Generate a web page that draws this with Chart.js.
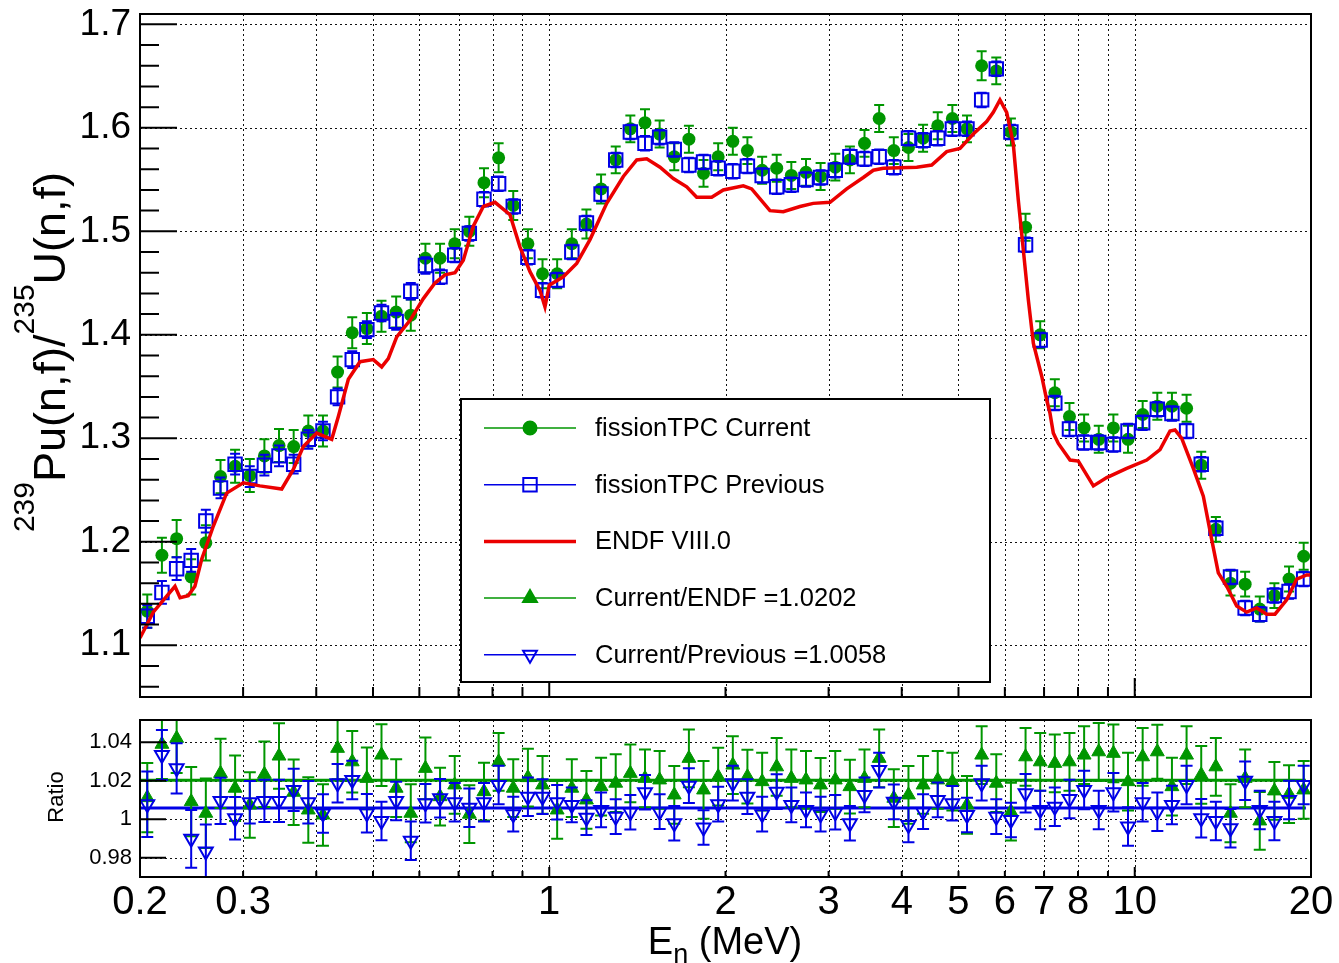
<!DOCTYPE html>
<html>
<head>
<meta charset="utf-8">
<script src="https://cdn.jsdelivr.net/npm/chart.js@4.4.1/dist/chart.umd.min.js"></script>
<style>
body { margin: 0; background: #fff; }
#wrap { position: relative; width: 1339px; height: 963px; }
#topBox { position: absolute; left: 0; top: 0; width: 1339px; height: 700px; }
#botBox { position: absolute; left: 0; top: 700px; width: 1339px; height: 263px; }
</style>
</head>
<body>
<div id="wrap">
  <div id="topBox"><canvas id="topChart"></canvas></div>
  <div id="botBox"><canvas id="ratioChart"></canvas></div>
</div>
<script>
// bin centres (MeV), 80 log-spaced bins between 0.2 and 20
const energy = [0.2058,0.2180,0.2310,0.2446,0.2591,0.2745,0.2907,0.3080,0.3262,0.3455,
  0.3660,0.3877,0.4107,0.4350,0.4608,0.4881,0.5170,0.5477,0.5801,0.6145,
  0.6509,0.6895,0.7303,0.7736,0.8195,0.8680,0.9195,0.9739,1.0316,1.0928,
  1.1575,1.2261,1.2988,1.3757,1.4572,1.5436,1.6350,1.7319,1.8345,1.9432,
  2.0584,2.180,2.310,2.446,2.591,2.745,2.907,3.080,3.262,3.455,
  3.660,3.877,4.107,4.350,4.608,4.881,5.170,5.477,5.801,6.145,
  6.509,6.895,7.303,7.736,8.195,8.680,9.195,9.739,10.316,10.928,
  11.575,12.261,12.988,13.757,14.572,15.436,16.350,17.319,18.345,19.432];

// fissionTPC current
const curVal = [1.133,1.187,1.203,1.166,1.199,1.263,1.273,1.264,1.283,1.293,
  1.292,1.307,1.307,1.364,1.402,1.406,1.418,1.422,1.419,1.474,
  1.474,1.488,1.500,1.547,1.571,1.525,1.488,1.459,1.459,1.488,
  1.507,1.541,1.569,1.599,1.605,1.594,1.572,1.589,1.556,1.572,
  1.587,1.578,1.559,1.561,1.554,1.557,1.553,1.562,1.569,1.585,
  1.609,1.578,1.581,1.590,1.602,1.609,1.599,1.660,1.655,1.596,
  1.504,1.400,1.344,1.321,1.310,1.299,1.310,1.299,1.323,1.331,
  1.331,1.329,1.274,1.212,1.160,1.159,1.135,1.148,1.164,1.186];
const curErr = [0.016,0.017,0.018,0.017,0.017,0.016,0.016,0.016,0.016,0.016,
  0.016,0.015,0.015,0.015,0.015,0.015,0.015,0.015,0.015,0.014,
  0.014,0.014,0.014,0.014,0.014,0.014,0.014,0.014,0.014,0.014,
  0.014,0.014,0.013,0.013,0.013,0.013,0.013,0.013,0.013,0.013,
  0.013,0.013,0.013,0.013,0.013,0.013,0.013,0.013,0.013,0.013,
  0.013,0.013,0.013,0.013,0.013,0.013,0.013,0.014,0.013,0.013,
  0.013,0.013,0.013,0.013,0.013,0.013,0.013,0.013,0.013,0.013,
  0.013,0.013,0.013,0.012,0.012,0.012,0.012,0.012,0.012,0.013];

// fissionTPC previous
const prevVal = [1.128,1.151,1.174,1.182,1.220,1.252,1.275,1.263,1.274,1.283,
  1.275,1.299,1.307,1.340,1.376,1.405,1.421,1.413,1.442,1.467,
  1.456,1.477,1.498,1.531,1.546,1.524,1.475,1.443,1.453,1.480,
  1.508,1.536,1.569,1.596,1.585,1.591,1.579,1.564,1.567,1.561,
  1.558,1.563,1.554,1.543,1.545,1.550,1.552,1.559,1.572,1.570,
  1.572,1.562,1.590,1.588,1.590,1.599,1.599,1.627,1.657,1.596,
  1.487,1.395,1.334,1.309,1.296,1.296,1.294,1.307,1.315,1.328,
  1.324,1.307,1.275,1.213,1.166,1.136,1.130,1.148,1.152,1.164];
const prevErr = [0.011,0.011,0.011,0.011,0.011,0.010,0.010,0.010,0.010,0.010,
  0.009,0.009,0.009,0.008,0.008,0.008,0.008,0.008,0.008,0.008,
  0.007,0.007,0.007,0.007,0.007,0.007,0.007,0.007,0.007,0.007,
  0.007,0.007,0.007,0.007,0.007,0.007,0.007,0.007,0.007,0.007,
  0.007,0.007,0.007,0.007,0.007,0.007,0.007,0.007,0.007,0.007,
  0.007,0.007,0.007,0.007,0.007,0.007,0.007,0.007,0.007,0.007,
  0.007,0.007,0.007,0.007,0.007,0.007,0.007,0.007,0.007,0.007,
  0.007,0.007,0.007,0.007,0.007,0.007,0.007,0.007,0.007,0.007];

// ENDF/B-VIII.0 evaluation
const endfE = [0.2,0.2107,0.2295,0.2341,0.2418,0.2482,0.2549,0.2668,0.2812,0.3002,
  0.3205,0.3492,0.3655,0.3802,0.4007,0.4251,0.4363,0.4538,0.4751,0.5006,
  0.5174,0.531,0.5489,0.5784,0.6095,0.638,0.6636,0.6903,0.7132,0.7418,
  0.7716,0.8079,0.8569,0.8912,0.927,0.9641,0.9833,1.0001,1.0568,1.1139,
  1.1738,1.2536,1.3382,1.4106,1.4672,1.546,1.6289,1.717,1.7858,1.8943,
  1.9828,2.145,2.217,2.382,2.51,2.681,2.824,3.017,3.221,3.439,
  3.577,3.72,4.243,4.5,4.773,5.03,5.3,5.586,5.733,5.886,
  6.043,6.201,6.326,6.452,6.58,6.711,6.936,7.074,7.166,7.26,
  7.404,7.753,8.01,8.498,8.958,9.689,10.483,11.045,11.488,11.717,
  12.029,12.59,13.095,13.535,13.891,14.357,14.932,15.531,16.154,16.802,
  17.359,18.176,18.906,19.665,20.0];
const endfVal = [1.107,1.132,1.157,1.146,1.148,1.157,1.183,1.215,1.247,1.257,
  1.254,1.251,1.270,1.292,1.305,1.299,1.321,1.357,1.374,1.376,
  1.369,1.377,1.398,1.414,1.435,1.450,1.458,1.460,1.472,1.505,
  1.524,1.528,1.516,1.485,1.461,1.443,1.427,1.448,1.456,1.469,
  1.492,1.527,1.553,1.569,1.570,1.562,1.551,1.543,1.533,1.533,
  1.540,1.544,1.541,1.520,1.519,1.524,1.527,1.528,1.541,1.552,
  1.559,1.561,1.562,1.564,1.577,1.580,1.594,1.606,1.615,1.627,
  1.615,1.585,1.530,1.482,1.434,1.392,1.360,1.337,1.324,1.305,
  1.295,1.279,1.278,1.254,1.262,1.271,1.279,1.289,1.307,1.308,
  1.300,1.271,1.244,1.202,1.170,1.157,1.138,1.132,1.136,1.130,
  1.130,1.144,1.164,1.168,1.168];

// ratios (lower pad)
const ratioEndf = [1.0112,1.0389,1.0420,1.0091,1.0031,1.0238,1.0161,1.0074,1.0233,1.0328,
  1.0140,1.0048,1.0022,1.0368,1.0298,1.0212,1.0333,1.0161,1.0031,1.0264,
  1.0117,1.0178,1.0026,1.0143,1.0298,1.0161,1.0216,1.0178,1.0048,1.0161,
  1.0100,1.0169,1.0187,1.0238,1.0212,1.0204,1.0126,1.0316,1.0152,1.0221,
  1.0281,1.0221,1.0195,1.0272,1.0212,1.0204,1.0178,1.0204,1.0169,1.0212,
  1.0316,1.0109,1.0126,1.0178,1.0204,1.0195,1.0074,1.0333,1.0187,1.0039,
  1.0324,1.0298,1.0290,1.0298,1.0333,1.0350,1.0342,1.0195,1.0324,1.0350,
  1.0169,1.0333,1.0230,1.0272,1.0031,1.0212,0.9991,1.0147,1.0130,1.0152];
const ratioEndfErr = [0.018,0.018,0.018,0.018,0.018,0.018,0.017,0.017,0.017,0.017,
  0.017,0.017,0.016,0.016,0.016,0.016,0.016,0.015,0.015,0.016,
  0.015,0.015,0.015,0.015,0.015,0.015,0.015,0.015,0.015,0.015,
  0.015,0.015,0.015,0.015,0.015,0.015,0.015,0.015,0.015,0.015,
  0.015,0.014,0.015,0.015,0.015,0.015,0.014,0.015,0.014,0.015,
  0.015,0.015,0.015,0.015,0.015,0.015,0.015,0.015,0.015,0.015,
  0.015,0.015,0.015,0.015,0.015,0.015,0.015,0.015,0.015,0.014,
  0.015,0.015,0.015,0.015,0.015,0.015,0.015,0.015,0.015,0.015];
const ratioPrev = [1.0078,1.0333,1.0264,0.9898,0.9832,1.0095,1.0005,1.0088,1.0095,1.0095,
  1.0152,1.0088,1.0030,1.0187,1.0204,1.0031,0.9991,1.0095,0.9888,1.0083,
  1.0109,1.0088,1.0060,1.0088,1.0178,1.0026,1.0117,1.0117,1.0088,1.0074,
  1.0008,1.0048,1.0013,1.0036,1.0140,1.0039,0.9979,1.0174,0.9957,1.0078,
  1.0187,1.0117,1.0026,1.0143,1.0074,1.0048,1.0026,1.0036,0.9979,1.0126,
  1.0255,1.0090,0.9970,1.0039,1.0100,1.0083,1.0022,1.0187,1.0013,0.9996,
  1.0135,1.0048,1.0065,1.0105,1.0152,1.0048,1.0140,0.9962,1.0088,1.0039,
  1.0074,1.0178,1.0005,0.9991,0.9953,1.0200,1.0048,0.9991,1.0100,1.0178];
const ratioPrevErr = [0.017,0.013,0.013,0.015,0.014,0.012,0.011,0.011,0.011,0.011,
  0.011,0.011,0.010,0.010,0.010,0.010,0.010,0.010,0.010,0.010,
  0.010,0.010,0.010,0.010,0.010,0.009,0.010,0.009,0.009,0.009,
  0.009,0.009,0.009,0.009,0.009,0.009,0.009,0.009,0.009,0.009,
  0.009,0.009,0.009,0.009,0.009,0.009,0.009,0.009,0.009,0.009,
  0.009,0.009,0.009,0.009,0.009,0.009,0.009,0.009,0.009,0.009,
  0.010,0.010,0.010,0.010,0.010,0.010,0.010,0.010,0.010,0.010,
  0.010,0.010,0.010,0.010,0.010,0.010,0.010,0.010,0.010,0.010];
const fitEndf = 1.0202;
const fitPrev = 1.0058;
const fitRange = [0.2, 19.6];

// axes
const xTickLabels = [0.2, 0.3, 1, 2, 3, 4, 5, 6, 7, 8, 10, 20];
const xGridVals = [0.3, 0.4, 0.5, 0.6, 0.7, 0.8, 0.9, 1, 2, 3, 4, 5, 6, 7, 8, 9, 10];
const yTicksTop = [1.1, 1.2, 1.3, 1.4, 1.5, 1.6, 1.7];
const yTicksRatio = [0.98, 1, 1.02, 1.04];
const legendLabels = ['fissionTPC Current', 'fissionTPC Previous', 'ENDF VIII.0',
  'Current/ENDF =1.0202', 'Current/Previous =1.0058'];

const FONT = "'Liberation Sans', Arial, Helvetica, sans-serif";
const GREEN = 'rgb(0,150,0)';
const BLUE = 'rgb(0,0,230)';
const RED = 'rgb(235,0,0)';
const PLOT_LEFT = 140;
const PLOT_RIGHT_PAD = 28;

const pts = (xs, ys) => xs.map((x, i) => ({ x: x, y: ys[i] }));

// vertical error bars with end caps, drawn under the markers of each dataset
const errorBars = {
  id: 'errorBars',
  beforeDatasetDraw(chart, args) {
    const ds = chart.data.datasets[args.index];
    if (!ds.errY) return;
    const ctx = chart.ctx;
    const a = chart.chartArea;
    const yScale = chart.scales.y;
    ctx.save();
    ctx.beginPath();
    ctx.rect(a.left, a.top, a.right - a.left, a.bottom - a.top);
    ctx.clip();
    ctx.strokeStyle = ds.errColor;
    ctx.lineWidth = 2;
    ctx.beginPath();
    args.meta.data.forEach((pt, i) => {
      const v = ds.data[i].y;
      const e = ds.errY[i];
      const y1 = yScale.getPixelForValue(v + e);
      const y2 = yScale.getPixelForValue(v - e);
      ctx.moveTo(pt.x, y1); ctx.lineTo(pt.x, y2);
      ctx.moveTo(pt.x - ds.capW, y1); ctx.lineTo(pt.x + ds.capW, y1);
      ctx.moveTo(pt.x - ds.capW, y2); ctx.lineTo(pt.x + ds.capW, y2);
    });
    ctx.stroke();
    ctx.restore();
  }
};

// ROOT-like frame: dotted grid, inward ticks, solid box
function rootFrame(cfg) {
  return {
    id: 'rootFrame',
    beforeDatasetsDraw(chart) {
      const { ctx, chartArea: a, scales } = chart;
      ctx.save();
      ctx.strokeStyle = '#111';
      ctx.lineWidth = 1;
      ctx.setLineDash([2, 3]);
      ctx.beginPath();
      xGridVals.forEach(v => {
        const px = Math.round(scales.x.getPixelForValue(v)) + 0.5;
        ctx.moveTo(px, a.top); ctx.lineTo(px, a.bottom);
      });
      cfg.yGrid.forEach(v => {
        const py = Math.round(scales.y.getPixelForValue(v)) + 0.5;
        ctx.moveTo(a.left, py); ctx.lineTo(a.right, py);
      });
      ctx.stroke();
      ctx.restore();
    },
    afterDatasetsDraw(chart) {
      const { ctx, chartArea: a, scales } = chart;
      ctx.save();
      ctx.strokeStyle = '#000';
      ctx.lineWidth = 2;
      ctx.beginPath();
      xGridVals.forEach(v => {
        const len = (v === 1 || v === 10) ? cfg.xLongLen : cfg.xShortLen;
        const px = scales.x.getPixelForValue(v);
        ctx.moveTo(px, a.bottom); ctx.lineTo(px, a.bottom - len);
      });
      cfg.yGrid.forEach(v => {
        const py = scales.y.getPixelForValue(v);
        ctx.moveTo(a.left, py); ctx.lineTo(a.left + cfg.yMajorLen, py);
      });
      cfg.yMinor.forEach(v => {
        const py = scales.y.getPixelForValue(v);
        ctx.moveTo(a.left, py); ctx.lineTo(a.left + cfg.yMinorLen, py);
      });
      ctx.stroke();
      ctx.strokeRect(a.left, a.top, a.right - a.left, a.bottom - a.top);
      ctx.restore();
    }
  };
}

// mixed-size text run (superscripts / subscripts)
function drawRuns(ctx, runs, cx, baseY) {
  let total = 0;
  runs.forEach(r => { ctx.font = r.size + 'px ' + FONT; r.w = ctx.measureText(r.t).width; total += r.w; });
  let x = cx - total / 2;
  ctx.textAlign = 'left';
  ctx.textBaseline = 'alphabetic';
  runs.forEach(r => {
    ctx.font = r.size + 'px ' + FONT;
    ctx.fillText(r.t, x, baseY + r.dy);
    x += r.w;
  });
}

const legendStyles = [
  { color: GREEN, style: 'circle', radius: 6.5, fill: true, lineW: 1.5 },
  { color: BLUE, style: 'rect', radius: 9.5, fill: false, lineW: 1.5 },
  { color: RED, style: null, radius: 0, fill: false, lineW: 3.5 },
  { color: GREEN, style: 'triangle', radius: 8, fill: true, lineW: 1.5 },
  { color: BLUE, style: 'triangle', radius: 8, rotation: 180, fill: false, lineW: 1.5 }
];

const topDecor = {
  id: 'topDecor',
  afterDraw(chart) {
    const ctx = chart.ctx;
    // legend box
    const L = 461, T = 399, R = 990, B = 682;
    ctx.save();
    ctx.fillStyle = '#fff';
    ctx.fillRect(L, T, R - L, B - T);
    ctx.strokeStyle = '#000';
    ctx.lineWidth = 2;
    ctx.strokeRect(L, T, R - L, B - T);
    legendLabels.forEach((txt, k) => {
      const s = legendStyles[k];
      const y = 428 + k * 56.7;
      ctx.strokeStyle = s.color;
      ctx.lineWidth = s.lineW;
      ctx.beginPath();
      ctx.moveTo(484, y); ctx.lineTo(576, y);
      ctx.stroke();
      if (s.style) {
        ctx.fillStyle = s.fill ? s.color : 'rgba(0,0,0,0)';
        ctx.strokeStyle = s.color;
        ctx.lineWidth = 2;
        Chart.helpers.drawPoint(ctx, { pointStyle: s.style, radius: s.radius, rotation: s.rotation || 0, borderWidth: 2 }, 530, y);
      }
      ctx.fillStyle = '#000';
      ctx.font = '25.5px ' + FONT;
      ctx.textAlign = 'left';
      ctx.textBaseline = 'middle';
      ctx.fillText(txt, 595, y + 1);
    });
    // y title
    ctx.translate(65, 352);
    ctx.rotate(-Math.PI / 2);
    ctx.fillStyle = '#000';
    drawRuns(ctx, [
      { t: '239', size: 30, dy: -31 },
      { t: 'Pu(n,f)/', size: 45, dy: 0 },
      { t: '235', size: 30, dy: -31 },
      { t: 'U(n,f)', size: 45, dy: 0 }
    ], 0, 0);
    ctx.restore();
  }
};

const ratioDecor = {
  id: 'ratioDecor',
  afterDraw(chart) {
    const ctx = chart.ctx;
    ctx.save();
    ctx.fillStyle = '#000';
    drawRuns(ctx, [
      { t: 'E', size: 38, dy: 0 },
      { t: 'n', size: 27, dy: 9 },
      { t: ' (MeV)', size: 38, dy: 0 }
    ], 725, 254);
    ctx.translate(57, 97);
    ctx.rotate(-Math.PI / 2);
    ctx.font = '22px ' + FONT;
    ctx.textAlign = 'center';
    ctx.textBaseline = 'middle';
    ctx.fillText('Ratio', 0, 0);
    ctx.restore();
  }
};

const minorTop = [];
for (let k = 53; k <= 85; k++) { if (k % 5 !== 0) minorTop.push(k / 50); }

new Chart(document.getElementById('topChart'), {
  type: 'scatter',
  data: {
    datasets: [
      { label: legendLabels[2], data: pts(endfE, endfVal), showLine: true, borderColor: RED,
        borderWidth: 3.5, pointRadius: 0, tension: 0, order: 0, clip: 0 },
      { label: legendLabels[1], data: pts(energy, prevVal), errY: prevErr, errColor: BLUE, capW: 5,
        pointStyle: 'rect', pointRadius: 9.5, pointBorderWidth: 2, pointBorderColor: BLUE,
        pointBackgroundColor: 'rgba(0,0,0,0)', order: 1, clip: 0 },
      { label: legendLabels[0], data: pts(energy, curVal), errY: curErr, errColor: GREEN, capW: 5,
        pointStyle: 'circle', pointRadius: 6.5, pointBorderWidth: 0, pointBorderColor: GREEN,
        pointBackgroundColor: GREEN, order: 2, clip: 0 }
    ]
  },
  options: {
    responsive: true,
    maintainAspectRatio: false,
    animation: false,
    devicePixelRatio: 1,
    layout: { autoPadding: false, padding: { left: 0, right: PLOT_RIGHT_PAD, top: 14, bottom: 3 } },
    plugins: { legend: { display: false }, tooltip: { enabled: false } },
    scales: {
      x: { type: 'logarithmic', min: 0.2, max: 20, display: false },
      y: {
        type: 'linear', min: 1.05, max: 1.71,
        grid: { display: false, drawTicks: false }, border: { display: false },
        afterBuildTicks: s => { s.ticks = yTicksTop.map(v => ({ value: v })); },
        afterFit: s => { s.width = PLOT_LEFT; s.paddingTop = 0; s.paddingBottom = 0; },
        ticks: { font: { family: FONT, size: 37 }, color: '#000', padding: 9,
          callback: v => v.toFixed(1) }
      }
    }
  },
  plugins: [errorBars, rootFrame({ yGrid: yTicksTop, yMinor: minorTop, yMajorLen: 37, yMinorLen: 19,
    xLongLen: 19, xShortLen: 10 }), topDecor]
});

new Chart(document.getElementById('ratioChart'), {
  type: 'scatter',
  data: {
    datasets: [
      { data: [{ x: fitRange[0], y: fitEndf }, { x: fitRange[1], y: fitEndf }], showLine: true,
        borderColor: GREEN, borderWidth: 3, pointRadius: 0, order: 3, clip: 0 },
      { data: [{ x: fitRange[0], y: fitPrev }, { x: fitRange[1], y: fitPrev }], showLine: true,
        borderColor: BLUE, borderWidth: 3, pointRadius: 0, order: 2, clip: 0 },
      { label: legendLabels[3], data: pts(energy, ratioEndf), errY: ratioEndfErr, errColor: GREEN, capW: 6,
        pointStyle: 'triangle', pointRadius: 8, pointBorderWidth: 1, pointBorderColor: GREEN,
        pointBackgroundColor: GREEN, order: 1, clip: 0 },
      { label: legendLabels[4], data: pts(energy, ratioPrev), errY: ratioPrevErr, errColor: BLUE, capW: 6,
        pointStyle: 'triangle', pointRotation: 180, pointRadius: 8, pointBorderWidth: 2,
        pointBorderColor: BLUE, pointBackgroundColor: 'rgba(0,0,0,0)', order: 0, clip: 0 }
    ]
  },
  options: {
    responsive: true,
    maintainAspectRatio: false,
    animation: false,
    devicePixelRatio: 1,
    layout: { autoPadding: false, padding: { left: 0, right: PLOT_RIGHT_PAD, top: 20, bottom: 0 } },
    plugins: { legend: { display: false }, tooltip: { enabled: false } },
    scales: {
      x: {
        type: 'logarithmic', min: 0.2, max: 20, position: 'bottom',
        grid: { display: false, drawTicks: false }, border: { display: false },
        afterBuildTicks: s => { s.ticks = xTickLabels.map(v => ({ value: v })); },
        afterFit: s => { s.height = 86; s.paddingLeft = 0; s.paddingRight = 0; },
        ticks: { font: { family: FONT, size: 40 }, color: '#000', padding: 2, autoSkip: false,
          maxRotation: 0, minRotation: 0, callback: v => String(v) }
      },
      y: {
        type: 'linear', min: 0.97, max: 1.0515,
        grid: { display: false, drawTicks: false }, border: { display: false },
        afterBuildTicks: s => { s.ticks = yTicksRatio.map(v => ({ value: v })); },
        afterFit: s => { s.width = PLOT_LEFT; s.paddingTop = 0; s.paddingBottom = 0; },
        ticks: { font: { family: FONT, size: 22 }, color: '#000', padding: 8,
          callback: v => (v === 1 ? '1' : v.toFixed(2)) }
      }
    }
  },
  plugins: [errorBars, rootFrame({ yGrid: yTicksRatio, yMinor: [], yMajorLen: 26, yMinorLen: 0,
    xLongLen: 10, xShortLen: 6 }), ratioDecor]
});
</script>
</body>
</html>
